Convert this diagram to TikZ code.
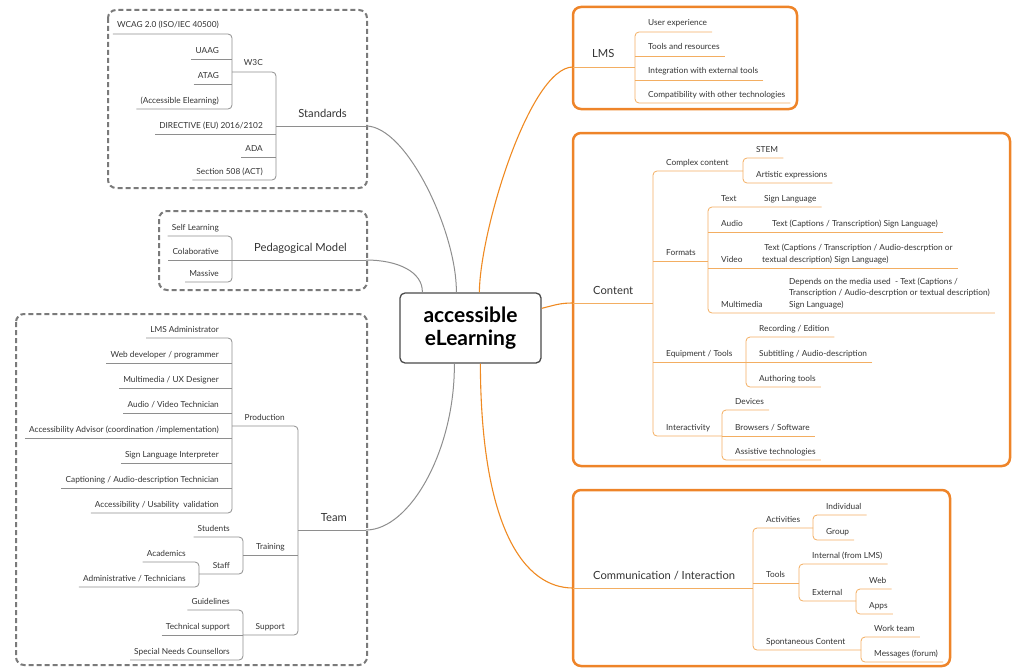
\documentclass[tikz,border=0pt]{standalone}
\usepackage{fontspec}
\setmainfont{Lato}
\usetikzlibrary{calc}
\definecolor{txtc}{HTML}{333333}
\definecolor{lineg}{HTML}{8E8E8E}
\definecolor{lineo}{HTML}{F3AE62}
\definecolor{cono}{HTML}{EF8A22}
\definecolor{boxo}{HTML}{EE8429}
\definecolor{boxg}{HTML}{7A7A7A}
\definecolor{ctrc}{HTML}{4A4A4A}
\tikzset{
  txt/.style={font=\fontsize{8.3}{11.3}\selectfont, text=txtc, inner sep=0pt, yshift=6pt},
  big/.style={font=\fontsize{11.2}{13}\selectfont, text=txtc, inner sep=0pt, yshift=9pt},
  gl/.style={draw=lineg, line width=0.8pt},
  ol/.style={draw=lineo, line width=0.8pt},
  gcon/.style={draw=lineg, line width=1pt},
  ocon/.style={draw=cono, line width=1.1pt},
  gbox/.style={draw=boxg, line width=2pt, dash pattern=on 5pt off 3pt, rounded corners=8pt},
  obox/.style={draw=boxo, line width=2.5pt, rounded corners=8pt},
}
% left child: name, bar x, underline y, text
\newcommand\lch[4]{%
  \node[txt,anchor=base east] (#1) at ({#2-13},#3) {#4};
  \coordinate (#1-u) at ($(#1.base west)+(-4pt,-6pt)$);
  \coordinate (#1-b) at (#2,#3);}
% left parent: name, bar x, underline y, text, child bar x
\newcommand\lpa[5]{%
  \node[txt,anchor=base east] (#1) at ({#2-13},#3) {#4};
  \coordinate (#1-u) at (#5,#3);
  \coordinate (#1-b) at (#2,#3);}
% right child
\newcommand\rch[4]{%
  \node[txt,anchor=base west] (#1) at ({#2+13},#3) {#4};
  \coordinate (#1-u) at ($(#1.base east)+(5pt,-6pt)$);
  \coordinate (#1-b) at (#2,#3);}
% right parent
\newcommand\rpa[5]{%
  \node[txt,anchor=base west] (#1) at ({#2+13},#3) {#4};
  \coordinate (#1-u) at (#5,#3);
  \coordinate (#1-b) at (#2,#3);}
% right child with description: name, bar x, y, label, desc x, desc
\newcommand\rde[6]{%
  \node[txt,anchor=base west] (#1) at ({#2+13},#3) {#4};
  \node[txt,anchor=base west] (#1-d) at (#5,#3) {\begin{tabular}[b]{@{}l@{}}#6\end{tabular}};
  \coordinate (#1-u) at ($(#1-d.base east)+(5pt,-6pt)$);
  \coordinate (#1-b) at (#2,#3);}
\newcommand\grp[3]{\draw[#1,rounded corners=4pt] (#2-u) -- (#2-b) -- (#3-b) -- (#3-u);}
\newcommand\midl[2]{\draw[#1] (#2-u) -- (#2-b);}
\begin{document}
\begin{tikzpicture}[x=1pt,y=-1pt]
\useasboundingbox (0,0) rectangle (1014,669);
% ---------- central node
\node[draw=ctrc, line width=1.3pt, rounded corners=5pt, fill=white, minimum width=141pt, minimum height=70pt, inner sep=0pt, align=center, text=black, font=\fontsize{21}{23}\selectfont\bfseries] (ctr) at (470.5,328) {accessible\\eLearning};
\coordinate (c-std) at ($(ctr.north west)+(57pt,0pt)$);
\coordinate (c-ped) at ($(ctr.north west)+(23pt,0pt)$);
\coordinate (c-lms) at ($(ctr.north west)+(80pt,0pt)$);
\coordinate (c-team) at ($(ctr.south west)+(55pt,0pt)$);
\coordinate (c-comm) at ($(ctr.south west)+(81pt,0pt)$);
\coordinate (c-cont) at ($(ctr.north east)+(0pt,-16pt)$);

% ---------- Standards
\draw[gbox] (108,10) rectangle (367,188);
\node[big,anchor=base east] (std) at (347,126) {Standards};
\coordinate (std-u) at (276,126); \coordinate (std-e) at (366,126);
\lpa{w3c}{276}{72}{W3C}{232}
\lch{dir}{276}{134}{DIRECTIVE (EU) 2016/2102}
\lch{ada}{276}{157}{ADA}
\lch{s508}{276}{180}{Section 508 (ACT)}
\lch{wcag}{232}{34}{WCAG 2.0 (ISO/IEC 40500)}
\lch{uaag}{232}{59}{UAAG}
\lch{atag}{232}{84}{ATAG}
\lch{accel}{232}{109}{(Accessible Elearning)}
\draw[gl] (std-u) -- (std-e);
\grp{gl}{w3c}{s508}\midl{gl}{dir}\midl{gl}{ada}
\grp{gl}{wcag}{accel}\midl{gl}{uaag}\midl{gl}{atag}

% ---------- Pedagogical Model
\draw[gbox] (159,211) rectangle (367,290);
\node[big,anchor=base east] (ped) at (347,260) {Pedagogical Model};
\coordinate (ped-u) at (232,260); \coordinate (ped-e) at (366,260);
\lch{self}{232}{236}{Self Learning}
\lch{colab}{232}{260}{Colaborative}
\lch{mass}{232}{282}{Massive}
\draw[gl] (ped-u) -- (ped-e);
\grp{gl}{self}{mass}\midl{gl}{colab}

% ---------- Team
\draw[gbox] (16,314) rectangle (367,665);
\node[big,anchor=base east] (team) at (347,530) {Team};
\coordinate (team-u) at (298,530); \coordinate (team-e) at (366,530);
\lpa{prod}{298}{426}{Production}{232}
\lpa{train}{298}{555}{Training}{243}
\lpa{supp}{298}{635}{Support}{243}
\lch{lmsadm}{232}{338}{LMS Administrator}
\lch{webdev}{232}{363}{Web developer / programmer}
\lch{mmux}{232}{388}{Multimedia / UX Designer}
\lch{avtech}{232}{413}{Audio / Video Technician}
\lch{accadv}{232}{438}{Accessibility Advisor (coordination /implementation)}
\lch{signint}{232}{463}{Sign Language Interpreter}
\lch{capt}{232}{488}{Captioning / Audio-description Technician}
\lch{accval}{232}{513}{Accessibility / Usability\ \ validation}
\lch{stud}{243}{537}{Students}
\lpa{staff}{243}{574}{Staff}{199}
\lch{acad}{199}{562}{Academics}
\lch{admin}{199}{587}{Administrative / Technicians}
\lch{guide}{243}{610}{Guidelines}
\lch{techsup}{243}{635}{Technical support}
\lch{snc}{243}{660}{Special Needs Counsellors}
\draw[gl] (team-u) -- (team-e);
\grp{gl}{prod}{supp}\midl{gl}{train}
\grp{gl}{lmsadm}{accval}\midl{gl}{webdev}\midl{gl}{mmux}\midl{gl}{avtech}\midl{gl}{accadv}\midl{gl}{signint}\midl{gl}{capt}
\grp{gl}{stud}{staff}
\grp{gl}{acad}{admin}
\grp{gl}{guide}{snc}\midl{gl}{techsup}

% ---------- LMS
\draw[obox] (573,7) rectangle (797,109);
\node[big,anchor=base west] (lms) at (592,67) {LMS};
\coordinate (lms-u) at (635,67); \coordinate (lms-e) at (573,67);
\rch{ux}{635}{32}{User experience}
\rch{tres}{635}{56}{Tools and resources}
\rch{integ}{635}{80}{Integration with external tools}
\rch{compat}{635}{103}{Compatibility with other technologies}
\draw[ol] (lms-e) -- (lms-u);
\grp{ol}{ux}{compat}\midl{ol}{tres}\midl{ol}{integ}

% ---------- Content
\draw[obox] (573,133) rectangle (1010,466);
\node[big,anchor=base west] (cont) at (593,303) {Content};
\coordinate (cont-u) at (653,303); \coordinate (cont-e) at (573,303);
\rpa{cplx}{653}{171}{Complex content}{743}
\rpa{fmt}{653}{261}{Formats}{708}
\rpa{equip}{653}{362}{Equipment / Tools}{746}
\rpa{inter}{653}{436}{Interactivity}{722}
\rch{stem}{743}{158}{STEM}
\rch{art}{743}{183}{Artistic expressions}
\rde{ftext}{708}{207}{Text}{764}{Sign Language}
\rde{faudio}{708}{232}{Audio}{772}{Text (Captions / Transcription) Sign Language)}
\rde{fvideo}{708}{268}{Video}{762}{\ Text (Captions / Transcription / Audio-descrption or\\textual description) Sign Language)}
\rde{fmm}{708}{313}{Multimedia}{789}{Depends on the media used\ \ - Text (Captions /\\Transcription / Audio-descrption or textual description)\\Sign Language)}
\rch{rec}{746}{337}{Recording / Edition}
\rch{subt}{746}{362}{Subtitling / Audio-description}
\rch{auth}{746}{387}{Authoring tools}
\rch{dev}{722}{410}{Devices}
\rch{brow}{722}{436}{Browsers / Software}
\rch{assist}{722}{460}{Assistive technologies}
\draw[ol] (cont-e) -- (cont-u);
\grp{ol}{cplx}{inter}\midl{ol}{fmt}\midl{ol}{equip}
\grp{ol}{stem}{art}
\grp{ol}{ftext}{fmm}\midl{ol}{faudio}\midl{ol}{fvideo}
\grp{ol}{rec}{auth}\midl{ol}{subt}
\grp{ol}{dev}{assist}\midl{ol}{brow}

% ---------- Communication / Interaction
\draw[obox] (573,490) rectangle (950,666);
\node[big,anchor=base west] (comm) at (593,588) {Communication / Interaction};
\coordinate (comm-u) at (753,588); \coordinate (comm-e) at (573,588);
\rpa{act}{753}{528}{Activities}{813}
\rpa{ctools}{753}{583}{Tools}{799}
\rpa{spont}{753}{650}{Spontaneous Content}{861}
\rch{indiv}{813}{515}{Individual}
\rch{group}{813}{540}{Group}
\rch{internal}{799}{564}{Internal (from LMS)}
\rpa{external}{799}{601}{External}{856}
\rch{web}{856}{589}{Web}
\rch{apps}{856}{614}{Apps}
\rch{work}{861}{637}{Work team}
\rch{msg}{861}{662}{Messages (forum)}
\draw[ol] (comm-e) -- (comm-u);
\grp{ol}{act}{spont}\midl{ol}{ctools}
\grp{ol}{indiv}{group}
\grp{ol}{internal}{external}
\grp{ol}{web}{apps}
\grp{ol}{work}{msg}

% ---------- connectors to the centre
\draw[gcon] (std-e) .. controls (407,126) and (457,233) .. (c-std);
\draw[gcon] (ped-e) .. controls (398,260) and (423,272) .. (c-ped);
\draw[gcon] (c-team) .. controls (455,450) and (410,530) .. (team-e);
\draw[ocon] (lms-e) .. controls (530,67) and (480,230) .. (c-lms);
\draw[ocon] (c-cont) .. controls (555,305) and (560,303) .. (cont-e);
\draw[ocon] (c-comm) .. controls (481,530) and (525,588) .. (comm-e);
\end{tikzpicture}
\end{document}
